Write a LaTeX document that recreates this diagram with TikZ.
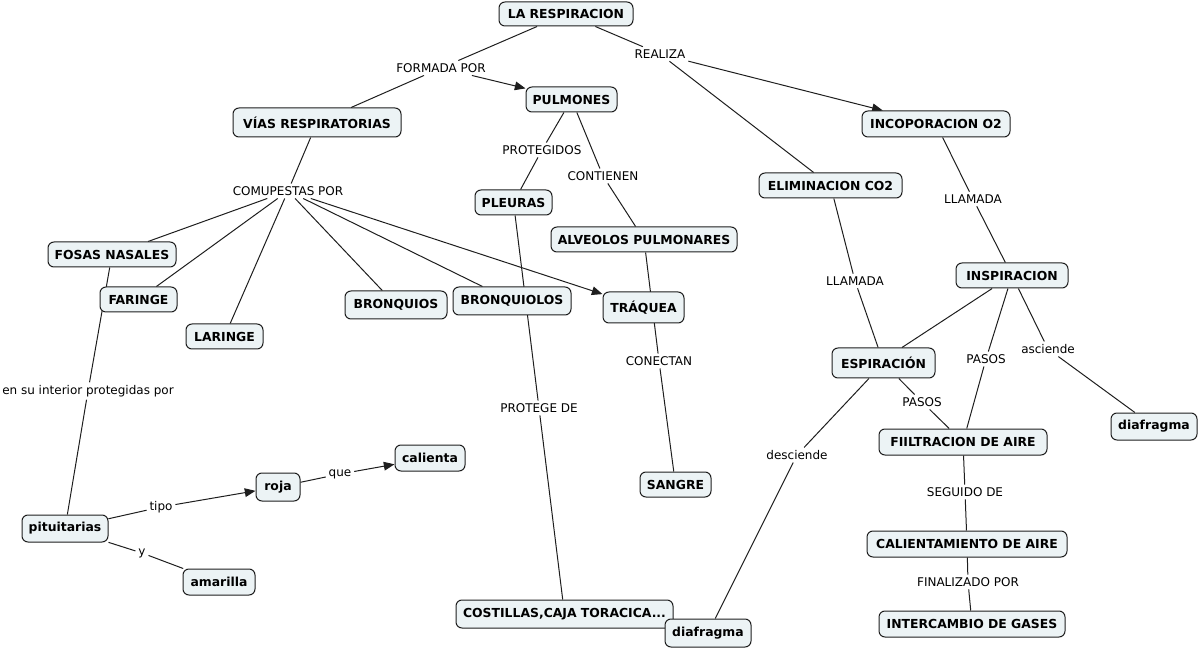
\documentclass[tikz,border=0pt]{standalone}
\usepackage{fontspec}
\setmainfont{DejaVu Sans}
\usetikzlibrary{arrows.meta}
\pgfdeclarelayer{bg}
\pgfsetlayers{bg,main}
\definecolor{boxfill}{RGB}{236,243,245}
\definecolor{edge}{RGB}{30,30,30}
\begin{document}
\begin{tikzpicture}[x=0.75pt,y=-0.75pt,
  cbox/.style 2 args={draw=edge, fill=boxfill, line width=0.75pt, rounded corners=4.5pt, inner sep=0pt,
    minimum width=#1*0.75pt, minimum height=#2*0.75pt, font=\bfseries\fontsize{9.3}{11}\selectfont},
  lbl/.style={inner sep=2pt, font=\fontsize{9}{11}\selectfont},
  ln/.style={draw=edge, line width=0.75pt},
  arr/.style={ln, -{Triangle[length=8pt,width=6.5pt]}}]
\useasboundingbox (0,0) rectangle (1199,648);
% concepts
\node[cbox={134}{24}] (resp) at (566,14) {LA RESPIRACION};
\node[cbox={91}{25}] (pulm) at (571.5,99.5) {PULMONES};
\node[cbox={168}{29}] (vias) at (317,122.5) {VÍAS RESPIRATORIAS};
\node[cbox={148}{26}] (incop) at (936,124) {INCOPORACION O2};
\node[cbox={143}{25}] (elim) at (830.5,185.5) {ELIMINACION CO2};
\node[cbox={77}{25}] (pleu) at (513.5,202.5) {PLEURAS};
\node[cbox={186}{25}] (alv) at (644,239.5) {ALVEOLOS PULMONARES};
\node[cbox={128}{25}] (fosas) at (112,254.5) {FOSAS NASALES};
\node[cbox={77}{25}] (far) at (138.5,299.5) {FARINGE};
\node[cbox={112}{25}] (insp) at (1012,275.5) {INSPIRACION};
\node[cbox={102}{28}] (bronq) at (396,305) {BRONQUIOS};
\node[cbox={118}{28}] (bronql) at (512,301) {BRONQUIOLOS};
\node[cbox={81}{31}] (traq) at (643.5,307.5) {TRÁQUEA};
\node[cbox={77}{25}] (lar) at (224.5,336.5) {LARINGE};
\node[cbox={103}{30}] (esp) at (883.5,363) {ESPIRACIÓN};
\node[cbox={86}{27}] (diaR) at (1154,426.5) {diafragma};
\node[cbox={168}{26}] (filt) at (963,442) {FIILTRACION DE AIRE};
\node[cbox={70}{26}] (cal) at (430,458) {calienta};
\node[cbox={44}{28}] (roja) at (278,487) {roja};
\node[cbox={71}{25}] (sang) at (675.5,484.5) {SANGRE};
\node[cbox={86}{27}] (pit) at (65,528.5) {pituitarias};
\node[cbox={200}{26}] (calent) at (967,544) {CALIENTAMIENTO DE AIRE};
\node[cbox={72}{26}] (amar) at (219,582) {amarilla};
\node[cbox={217}{28}] (cost) at (564.5,614) {COSTILLAS,CAJA TORACICA...};
\node[cbox={86}{28}] (diaB) at (708,633) {diafragma};
\node[cbox={186}{26}] (inter) at (972,624) {INTERCAMBIO DE GASES};
% linking phrases
\node[lbl] (formada) at (441,68) {FORMADA POR};
\node[lbl] (realiza) at (660,54) {REALIZA};
\node[lbl] (protegidos) at (542,150) {PROTEGIDOS};
\node[lbl] (contienen) at (603,176) {CONTIENEN};
\node[lbl] (comp) at (288,191) {COMUPESTAS POR};
\node[lbl] (llamR) at (973,199) {LLAMADA};
\node[lbl] (llamM) at (855,281) {LLAMADA};
\node[lbl] (conectan) at (659,361) {CONECTAN};
\node[lbl] (pasosU) at (986,359) {PASOS};
\node[lbl] (asciende) at (1048,349) {asciende};
\node[lbl] (pasosL) at (922,402) {PASOS};
\node[lbl] (interior) at (88,391) {en su interior protegidas por};
\node[lbl] (protege) at (539,408) {PROTEGE DE};
\node[lbl] (desciende) at (797,455) {desciende};
\node[lbl] (seguido) at (965,492) {SEGUIDO DE};
\node[lbl] (tipo) at (161,507) {tipo};
\node[lbl] (que) at (340,474) {que};
\node[lbl] (ylbl) at (142,553) {y};
\node[lbl] (final) at (968,582) {FINALIZADO POR};
% connectors
\begin{pgfonlayer}{bg}
\draw[ln] (resp) -- (formada);
\draw[ln] (formada) -- (vias);
\draw[arr] (formada) -- (pulm);
\draw[ln] (resp) -- (realiza);
\draw[arr] (realiza) -- (incop);
\draw[ln] (realiza) -- (elim);
\draw[ln] (pulm) -- (protegidos);
\draw[ln] (protegidos) -- (pleu);
\draw[ln] (pulm) -- (contienen);
\draw[ln] (contienen) -- (alv);
\draw[ln] (vias) -- (comp);
\draw[ln] (comp) -- (fosas);
\draw[ln] (comp) -- (far);
\draw[ln] (comp) -- (lar);
\draw[ln] (comp) -- (bronq);
\draw[ln] (comp) -- (bronql);
\draw[arr] (comp) -- (traq);
\draw[ln] (alv) -- (conectan);
\draw[ln] (conectan) -- (sang);
\draw[ln] (pleu) -- (protege);
\draw[ln] (protege) -- (cost);
\draw[ln] (fosas) -- (interior);
\draw[ln] (interior) -- (pit);
\draw[ln] (pit) -- (tipo);
\draw[arr] (tipo) -- (roja);
\draw[ln] (roja) -- (que);
\draw[arr] (que) -- (cal);
\draw[ln] (pit) -- (ylbl);
\draw[ln] (ylbl) -- (amar);
\draw[ln] (incop) -- (llamR);
\draw[ln] (llamR) -- (insp);
\draw[ln] (elim) -- (llamM);
\draw[ln] (llamM) -- (esp);
\draw[ln] (insp) -- (esp.40);
\draw[ln] (insp) -- (pasosU);
\draw[ln] (pasosU) -- (filt);
\draw[ln] (insp) -- (asciende);
\draw[ln] (asciende) -- (diaR);
\draw[ln] (esp) -- (pasosL);
\draw[ln] (pasosL) -- (filt);
\draw[ln] (esp) -- (desciende);
\draw[ln] (desciende) -- (diaB);
\draw[ln] (filt) -- (seguido);
\draw[ln] (seguido) -- (calent);
\draw[ln] (calent) -- (final);
\draw[ln] (final) -- (inter);
\end{pgfonlayer}
\end{tikzpicture}
\end{document}
